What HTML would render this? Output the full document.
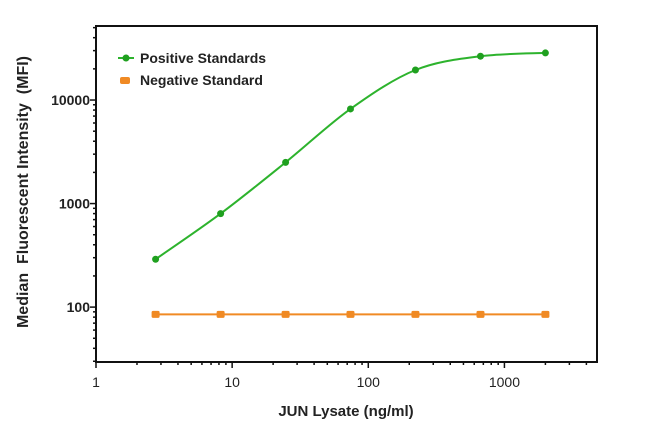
<!DOCTYPE html>
<html><head><meta charset="utf-8"><style>
body{margin:0;background:#fff;}
svg text{font-family:"Liberation Sans",Arial,sans-serif;font-weight:bold;fill:#222;white-space:pre;}
</style></head><body>
<svg id="chart" width="650" height="435"></svg>
<script>
const xValues=[2.74,8.23,24.7,74,222,667,2000];
const positiveValues=[290,800,2500,8200,19500,26500,28500];
const negativeValues=[85,85,85,85,85,85,85];
const xTickLabels=["1","10","100","1000"];
const yTickLabels=["100","1000","10000"];

const L=96,R=597,T=26,B=362;
const xMin=0,xMax=3.68,yMin=Math.log10(29.5),yMax=4.715;
const sx=v=>L+(Math.log10(v)-xMin)/(xMax-xMin)*(R-L);
const sy=v=>B-(Math.log10(v)-yMin)/(yMax-yMin)*(B-T);
const svg=document.getElementById('chart');
const NS='http://www.w3.org/2000/svg';
function mk(t,a,p){const e=document.createElementNS(NS,t);for(const k in a)e.setAttribute(k,a[k]);(p||svg).appendChild(e);return e;}

const frame=mk('rect',{x:L,y:T,width:R-L,height:B-T,fill:'none',stroke:'#111','stroke-width':2});



for(let d=0;d<4;d++){for(let m=1;m<10;m++){const v=m*Math.pow(10,d);if(Math.log10(v)>xMax)break;
 const x=sx(v);const t=mk('line',{x1:x,x2:x,y1:B,y2:B+(m==1?6:3),stroke:'#111','stroke-width':1.5});
 
 }}
xTickLabels.forEach(s=>{const t=mk('text',{x:sx(+s),y:B+25,'text-anchor':'middle','font-size':14});t.style.fontWeight='normal';t.textContent=s;
 
 });
for(let d=1;d<5;d++){for(let m=1;m<10;m++){const v=m*Math.pow(10,d);const lv=Math.log10(v);if(lv<yMin||lv>yMax)continue;
 const y=sy(v);const t=mk('line',{x1:L-(m==1?6:3),x2:L,y1:y,y2:y,stroke:'#111','stroke-width':1.5});
 
 }}
yTickLabels.forEach(s=>{const t=mk('text',{x:L-6,y:sy(+s)+5,'text-anchor':'end','font-size':14});t.textContent=s;
 
 });

const xt=mk('text',{x:346,y:416,'text-anchor':'middle','font-size':15});xt.textContent='JUN Lysate (ng/ml)';


const yt=mk('text',{x:0,y:0,'text-anchor':'middle','font-size':16,transform:'translate(28,192) rotate(-90)'});yt.textContent='Median  Fluorescent Intensity  (MFI)';



function smoothPath(xs,ys){const p=xs.map((v,i)=>[sx(v),sy(ys[i])]);let d='M'+p[0][0]+','+p[0][1];
 for(let i=0;i<p.length-1;i++){const p0=p[i-1]||p[i],p1=p[i],p2=p[i+1],p3=p[i+2]||p2;
  d+=' C'+(p1[0]+(p2[0]-p0[0])/6)+','+(p1[1]+(p2[1]-p0[1])/6)+' '+(p2[0]-(p3[0]-p1[0])/6)+','+(p2[1]-(p3[1]-p1[1])/6)+' '+p2[0]+','+p2[1];}
 return d;}
const gp=mk('path',{d:smoothPath(xValues,positiveValues),fill:'none',stroke:'#2db32d','stroke-width':2});


const op=mk('path',{d:smoothPath(xValues,negativeValues),fill:'none',stroke:'#f08a24','stroke-width':2});


xValues.forEach((v,i)=>{
 const c=mk('circle',{cx:sx(v),cy:sy(positiveValues[i]),r:3.5,fill:'#1fa01f'});
 
 
 const s=mk('rect',{x:sx(v)-4,y:sy(negativeValues[i])-3.5,width:8,height:7,rx:1.5,fill:'#f08a24'});
 
 
});
const l1=mk('line',{x1:118,x2:134,y1:58,y2:58,stroke:'#2db32d','stroke-width':2});


mk('circle',{cx:126,cy:58,r:3.5,fill:'#1fa01f'});
const t1=mk('text',{x:140,y:63,'font-size':14});t1.textContent='Positive Standards';


const l2=mk('rect',{x:120,y:77,width:10,height:7,rx:2,fill:'#f08a24'});


const t2=mk('text',{x:140,y:85,'font-size':14});t2.textContent='Negative Standard';


</script>
</body></html>
